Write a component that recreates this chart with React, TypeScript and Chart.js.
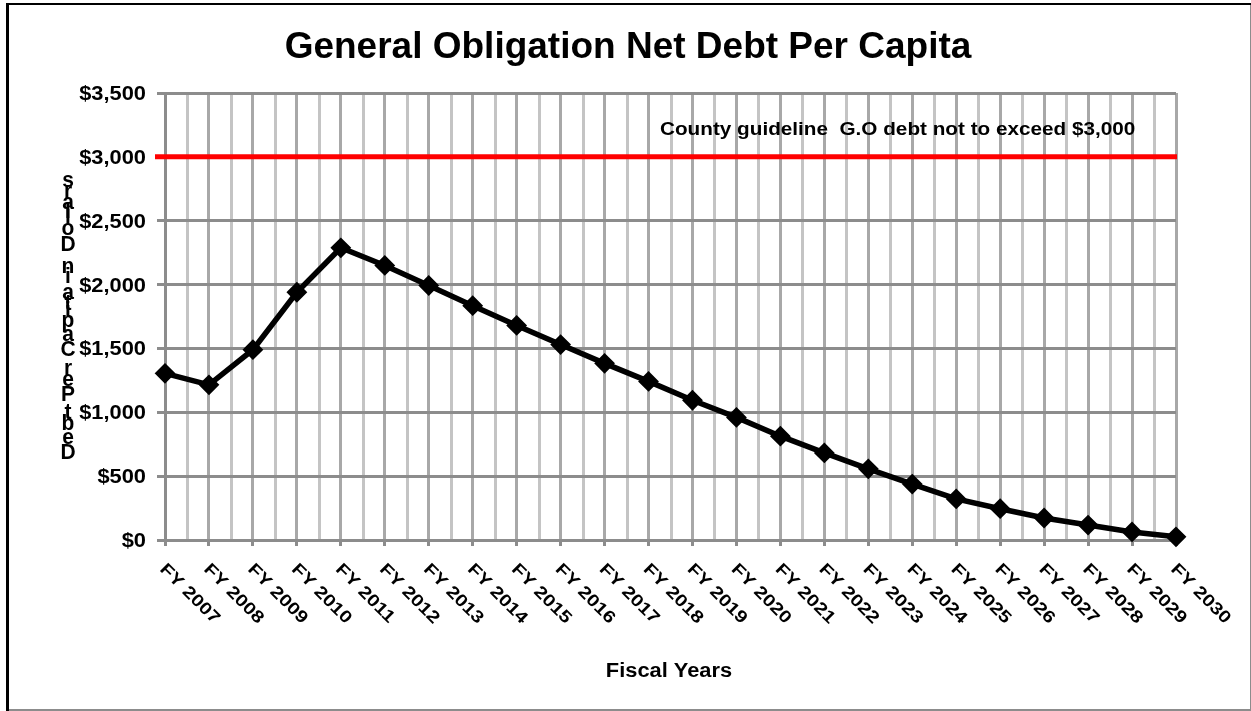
import React, { useEffect, useRef } from "react";
import { Chart, registerables } from "chart.js";

Chart.register(...registerables);

const chartTitle = "General Obligation Net Debt Per Capita";
const xAxisTitle = "Fiscal Years";
const yAxisTitle = "Debt Per Capita in Dollars";
const guidelineText = "County guideline  G.O debt not to exceed $3,000";

const fyLabels = [
  "FY 2007", "FY 2008", "FY 2009", "FY 2010", "FY 2011", "FY 2012",
  "FY 2013", "FY 2014", "FY 2015", "FY 2016", "FY 2017", "FY 2018",
  "FY 2019", "FY 2020", "FY 2021", "FY 2022", "FY 2023", "FY 2024",
  "FY 2025", "FY 2026", "FY 2027", "FY 2028", "FY 2029", "FY 2030",
];

const debtPerCapita = [
  1305, 1215, 1490, 1940, 2288, 2150, 1993, 1835, 1680, 1530, 1383, 1242,
  1094, 960, 813, 682, 557, 438, 322, 245, 172, 117, 63, 25,
];

const guidelineValue = 3000;

const yTickValues = [0, 500, 1000, 1500, 2000, 2500, 3000, 3500];
const yTickLabels = ["$0", "$500", "$1,000", "$1,500", "$2,000", "$2,500", "$3,000", "$3,500"];

const FONT = '"Liberation Sans", Arial, sans-serif';

function drawText(
  ctx: CanvasRenderingContext2D,
  s: string,
  x: number,
  y: number,
  font: string,
  sx: number,
  align: "left" | "center" | "right"
) {
  ctx.save();
  ctx.font = font;
  ctx.textAlign = "left";
  ctx.textBaseline = "alphabetic";
  ctx.fillStyle = "#000";
  const w = ctx.measureText(s).width * sx;
  const x0 = align === "center" ? x - w / 2 : align === "right" ? x - w : x;
  ctx.translate(x0, y);
  ctx.scale(sx, 1);
  ctx.fillText(s, 0, 0);
  ctx.restore();
}

const decorPlugin = {
  id: "decor",
  beforeDraw(chart: any) {
    const ctx = chart.ctx as CanvasRenderingContext2D;
    const xs = chart.scales.x;
    const area = chart.chartArea;
    ctx.save();
    ctx.strokeStyle = "#c4c4c4";
    ctx.lineWidth = 3;
    for (let i = 0; i < fyLabels.length - 1; i++) {
      const a = xs.getPixelForTick(i);
      const b = xs.getPixelForTick(i + 1);
      const m = Math.round((a + b) / 2) + 0.5;
      ctx.beginPath();
      ctx.moveTo(m, area.top);
      ctx.lineTo(m, area.bottom);
      ctx.stroke();
    }
    ctx.restore();
  },
  beforeDatasetsDraw(chart: any) {
    const ctx = chart.ctx as CanvasRenderingContext2D;
    const ys = chart.scales.y;
    const area = chart.chartArea;
    const y = ys.getPixelForValue(guidelineValue);
    ctx.save();
    ctx.strokeStyle = "#ff0000";
    ctx.lineWidth = 5;
    ctx.beginPath();
    ctx.moveTo(area.left - 10, y);
    ctx.lineTo(area.right + 1, y);
    ctx.stroke();
    ctx.restore();
  },
  afterDraw(chart: any) {
    const ctx = chart.ctx as CanvasRenderingContext2D;
    const xs = chart.scales.x;
    const ys = chart.scales.y;
    const area = chart.chartArea;
    const W = chart.width;
    const H = chart.height;

    // frame
    ctx.save();
    ctx.fillStyle = "#000";
    ctx.fillRect(6, 3, W - 6, 2);
    ctx.fillRect(6, 3, 3, H - 3);
    ctx.fillStyle = "#8c8c8c";
    ctx.fillRect(W - 1, 5, 1, H - 5);
    ctx.fillRect(9, H - 2, W - 9, 2);
    ctx.restore();

    // title
    drawText(ctx, chartTitle, 628, 58, `bold 37px ${FONT}`, 1.0, "center");

    // guideline annotation
    drawText(ctx, guidelineText, 660, 135, `bold 19px ${FONT}`, 1.09, "left");

    // y tick labels
    yTickValues.forEach((v, i) => {
      const py = ys.getPixelForValue(v);
      drawText(ctx, yTickLabels[i], 146, py + 7, `bold 19.5px ${FONT}`, 1.12, "right");
    });

    // x tick labels (rotated 45deg clockwise)
    fyLabels.forEach((lab, i) => {
      const px = xs.getPixelForTick(i);
      ctx.save();
      ctx.translate(px - 6, area.bottom + 30);
      ctx.rotate(Math.PI / 4);
      ctx.font = `bold 17px ${FONT}`;
      ctx.textAlign = "left";
      ctx.textBaseline = "alphabetic";
      ctx.fillStyle = "#000";
      ctx.scale(1.2, 1);
      ctx.fillText(lab, 0, 0);
      ctx.restore();
    });

    // x axis title
    drawText(ctx, xAxisTitle, 669, 677, `bold 19.5px ${FONT}`, 1.12, "center");

    // y axis title: upright glyphs stacked along a rotated baseline
    ctx.save();
    const yFont = `bold 21px ${FONT}`;
    ctx.font = yFont;
    const chars = Array.from(yAxisTitle);
    const advs = chars.map((c) => ctx.measureText(c).width);
    const total = advs.reduce((a, b) => a + b, 0);
    const first = advs[0];
    const last = advs[advs.length - 1];
    const bottomCenter = 451;
    const topCenter = 179;
    const k = (bottomCenter - topCenter) / (total - first / 2 - last / 2);
    let cum = 0;
    const cx = 68;
    chars.forEach((c, i) => {
      const center = bottomCenter - (cum + advs[i] / 2 - first / 2) * k;
      cum += advs[i];
      if (c === " ") return;
      ctx.save();
      ctx.font = yFont;
      ctx.textAlign = "center";
      ctx.textBaseline = "alphabetic";
      ctx.fillStyle = "#000";
      ctx.translate(cx, center + 7.5);
      ctx.scale(1.0, 1.05);
      ctx.fillText(c, 0, 0);
      ctx.restore();
    });
    ctx.restore();
  },
};

export default function App() {
  const ref = useRef<HTMLCanvasElement | null>(null);

  useEffect(() => {
    if (!ref.current) return;
    const chart = new Chart(ref.current, {
      type: "line",
      data: {
        labels: fyLabels,
        datasets: [
          {
            label: "Debt Per Capita",
            data: debtPerCapita,
            borderColor: "#000",
            backgroundColor: "#000",
            borderWidth: 5.5,
            pointStyle: "rectRot",
            pointRadius: 9,
            pointBorderWidth: 2,
            pointBackgroundColor: "#000",
            pointBorderColor: "#000",
            tension: 0,
            clip: false as any,
          },
        ],
      },
      options: {
        responsive: false,
        animation: false,
        devicePixelRatio: 1,
        layout: { padding: { left: 157, right: 75, top: 93, bottom: 165 } },
        plugins: {
          legend: { display: false },
          title: { display: false },
          tooltip: { enabled: false },
        },
        scales: {
          x: {
            type: "category",
            offset: false,
            ticks: { display: false },
            grid: {
              display: true,
              color: "#a8a8a8",
              lineWidth: 3,
              drawTicks: true,
              tickLength: 6,
              tickColor: "#8c8c8c",
              tickWidth: 3,
            },
            border: { display: true, color: "#8c8c8c", width: 3 },
          },
          y: {
            min: 0,
            max: 3500,
            ticks: { display: false, stepSize: 500 },
            grid: {
              display: true,
              color: "#8c8c8c",
              lineWidth: 3,
              drawTicks: true,
              tickLength: 8,
              tickColor: "#8c8c8c",
              tickWidth: 3,
            },
            border: { display: true, color: "#8c8c8c", width: 3 },
          },
        },
      },
      plugins: [decorPlugin],
    });
    return () => chart.destroy();
  }, []);

  return (
    <div style={{ position: "fixed", left: 0, top: 0, width: 1251, height: 711, background: "#fff" }}>
      <canvas ref={ref} width={1251} height={711} style={{ display: "block" }} />
    </div>
  );
}
